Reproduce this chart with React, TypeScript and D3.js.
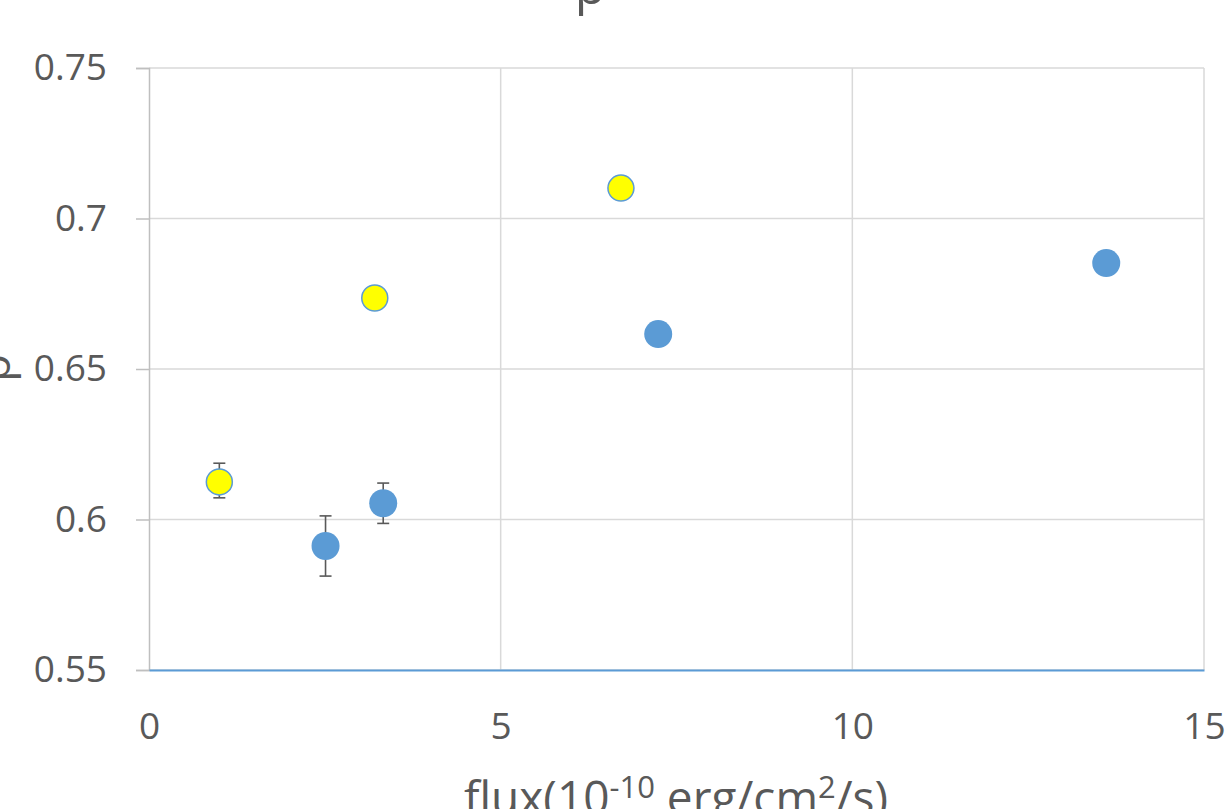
import { useEffect, useRef } from 'react';
import * as d3 from 'd3';

// flux (1e-10 erg/cm2/s) vs p
const blueFlux = [2.51, 3.33, 7.24, 13.61];
const blueP = [0.5912, 0.6054, 0.6616, 0.6852];
const blueErr = [0.010, 0.0067, 0, 0];

const yellowFlux = [1.0, 3.21, 6.71];
const yellowP = [0.6125, 0.6736, 0.7101];
const yellowErrUp = [0.0062, 0, 0];
const yellowErrDown = [0.0053, 0, 0];

const xTicks = [0, 5, 10, 15];
const yTicks = [0.55, 0.6, 0.65, 0.7, 0.75];

const W = 1230;
const H = 809;

export default function App() {
    const svgRef = useRef<SVGSVGElement>(null);

    useEffect(() => {
        if (!svgRef.current) return;
        const svg = d3.select(svgRef.current);
        svg.selectAll("*").remove();

        const margin = { top: 68, right: 26, bottom: 139, left: 149 };
        const innerWidth = W - margin.left - margin.right;
        const innerHeight = H - margin.top - margin.bottom;

        const x = d3.scaleLinear().domain([0, 15]).range([0, innerWidth]);
        const y = d3.scaleLinear().domain([0.55, 0.75]).range([innerHeight, 0]);

        const font = "'Open Sans', sans-serif";
        const textColor = '#595959';

        const g = svg.append("g")
            .attr("transform", `translate(${margin.left},${margin.top})`);

        // grid lines
        g.selectAll(".hgrid")
            .data(yTicks)
            .enter()
            .append("line")
            .attr("x1", 0)
            .attr("x2", innerWidth)
            .attr("y1", d => y(d))
            .attr("y2", d => y(d))
            .attr("stroke", "#d9d9d9")
            .attr("stroke-width", 1.5);

        g.selectAll(".vgrid")
            .data(xTicks.slice(1))
            .enter()
            .append("line")
            .attr("x1", d => x(d))
            .attr("x2", d => x(d))
            .attr("y1", 0)
            .attr("y2", innerHeight)
            .attr("stroke", "#d9d9d9")
            .attr("stroke-width", 1.5);

        // y axis
        const yAxis = d3.axisLeft(y).tickValues(yTicks).tickSize(13).tickPadding(29)
            .tickFormat(d => String(d));
        const ya = g.append("g").call(yAxis);
        ya.select(".domain").attr("stroke", "#bfbfbf").attr("stroke-width", 1.5);
        ya.selectAll(".tick line").attr("stroke", "#bfbfbf").attr("stroke-width", 1.5);
        ya.selectAll("text")
            .attr("fill", textColor)
            .attr("font-family", font)
            .attr("font-size", 37);

        // x axis
        const xAxis = d3.axisBottom(x).tickValues(xTicks).tickSize(0).tickPadding(43)
            .tickFormat(d => String(d));
        const xa = g.append("g")
            .attr("transform", `translate(0,${innerHeight})`)
            .call(xAxis);
        xa.select(".domain").attr("stroke", "#5b9bd5").attr("stroke-width", 2);
        xa.selectAll("text")
            .attr("fill", textColor)
            .attr("font-family", font)
            .attr("font-size", 37);

        // error bars
        const errColor = '#595959';
        const drawErr = (xs: number[], ys: number[], up: number[], down: number[]) => {
            xs.forEach((xv, i) => {
                if (!up[i] && !down[i]) return;
                const cx = x(xv);
                const y1 = y(ys[i] + up[i]);
                const y2 = y(ys[i] - down[i]);
                g.append("line").attr("x1", cx).attr("x2", cx).attr("y1", y1).attr("y2", y2)
                    .attr("stroke", errColor).attr("stroke-width", 1.6);
                [y1, y2].forEach(yy => {
                    g.append("line").attr("x1", cx - 6).attr("x2", cx + 6).attr("y1", yy).attr("y2", yy)
                        .attr("stroke", errColor).attr("stroke-width", 1.6);
                });
            });
        };
        drawErr(blueFlux, blueP, blueErr, blueErr);
        drawErr(yellowFlux, yellowP, yellowErrUp, yellowErrDown);

        // points
        g.selectAll(".blue")
            .data(blueFlux)
            .enter()
            .append("circle")
            .attr("cx", d => x(d))
            .attr("cy", (_d, i) => y(blueP[i]))
            .attr("r", 14)
            .attr("fill", "#5b9bd5");

        g.selectAll(".yellow")
            .data(yellowFlux)
            .enter()
            .append("circle")
            .attr("cx", d => x(d))
            .attr("cy", (_d, i) => y(yellowP[i]))
            .attr("r", 13)
            .attr("fill", "#ffff00")
            .attr("stroke", "#5b9bd5")
            .attr("stroke-width", 1.5);

        // title (clipped at the top edge, as in the source)
        svg.append("text")
            .attr("x", 590)
            .attr("y", 4)
            .attr("text-anchor", "middle")
            .attr("fill", textColor)
            .attr("font-family", font)
            .attr("font-size", 50)
            .text("p");

        // y label
        svg.append("text")
            .attr("transform", `translate(10,368) rotate(-90)`)
            .attr("text-anchor", "middle")
            .attr("fill", textColor)
            .attr("font-family", font)
            .attr("font-size", 46)
            .text("p");

        // x label
        const xl = svg.append("text")
            .attr("x", 676)
            .attr("y", 814)
            .attr("text-anchor", "middle")
            .attr("fill", textColor)
            .attr("font-family", font)
            .attr("font-size", 46);
        xl.append("tspan").text("flux(10");
        xl.append("tspan").attr("dy", -16).attr("font-size", 31).text("-10");
        xl.append("tspan").attr("dy", 16).text(" erg/cm");
        xl.append("tspan").attr("dy", -16).attr("font-size", 31).text("2");
        xl.append("tspan").attr("dy", 16).text("/s)");
    }, []);

    return (
        <div style={{ position: 'fixed', left: 0, top: 0, width: W, height: H, background: '#fff' }}>
            <svg ref={svgRef} width={W} height={H} style={{ display: 'block' }} />
        </div>
    );
}
